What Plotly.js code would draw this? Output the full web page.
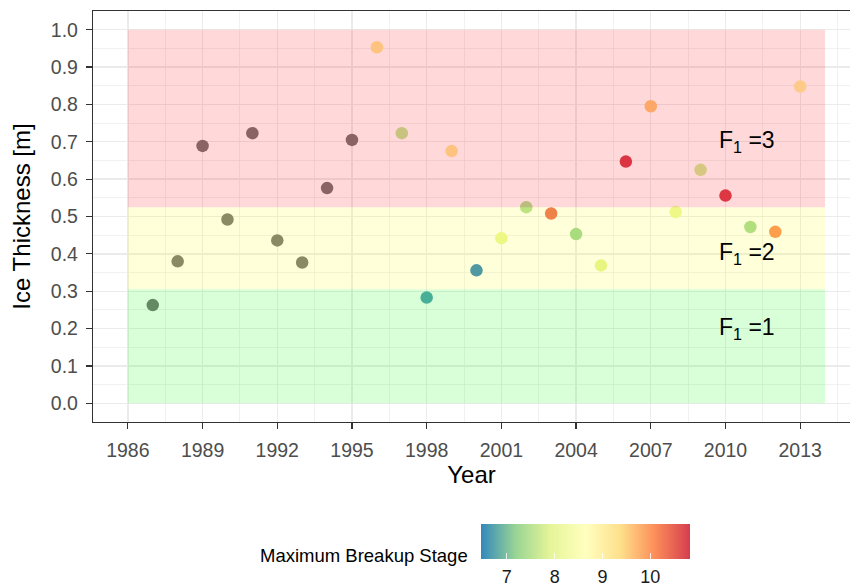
<!DOCTYPE html>
<html>
<head>
<meta charset="utf-8">
<script src="https://cdn.plot.ly/plotly-3.0.1.min.js"></script>
<style>
  html, body { margin: 0; padding: 0; background: #ffffff; }
  #chart { width: 850px; height: 586px; }
</style>
</head>
<body>
<div id="chart"></div>
<script>
// Ice thickness at breakup, by year, coloured by the maximum breakup stage
const years = [1987, 1988, 1989, 1990, 1991, 1992, 1993, 1994, 1995, 1996,
               1997, 1998, 1999, 2000, 2001, 2002, 2003, 2004, 2005, 2006,
               2007, 2008, 2009, 2010, 2011, 2012, 2013];
const thickness = [0.263, 0.380, 0.689, 0.492, 0.723, 0.436, 0.377, 0.576, 0.705, 0.953,
                   0.723, 0.283, 0.675, 0.356, 0.442, 0.525, 0.508, 0.453, 0.369, 0.647,
                   0.795, 0.512, 0.625, 0.556, 0.472, 0.459, 0.848];
// null = stage not recorded
const breakupStage = [null, null, null, null, null, null, null, null, null, 9.25,
                      7.55, 6.7, 9.25, 6.46, 8.0, 7.4, 10.4, 7.2, 7.9, 10.83,
                      9.6, 8.05, 7.7, 10.8, 7.3, 10.1, 9.05];

// F1 classes: lower / upper thickness limits and labels
const classLower = [0.0, 0.305, 0.525];
const classUpper = [0.305, 0.525, 1.0];
const classColor = ['rgba(0,255,0,0.15)', 'rgba(255,255,0,0.15)', 'rgba(255,0,0,0.15)'];
const classLabel = ['F<sub>1</sub> =1', 'F<sub>1</sub> =2', 'F<sub>1</sub> =3'];
const classLabelY = [0.2, 0.4, 0.7];
const bandStart = 1986, bandEnd = 2014;

const stageTicks = [7, 8, 9, 10];
const stageMin = 6.46, stageMax = 10.83;

const spectral = [
  [0, '#3288bd'], [1/6, '#99d594'], [2/6, '#e6f598'], [3/6, '#ffffbf'],
  [4/6, '#fee08b'], [5/6, '#fc8d59'], [1, '#d53e4f']
];

const naX = [], naY = [], stX = [], stY = [], stC = [];
years.forEach((y, i) => {
  if (breakupStage[i] === null) { naX.push(y); naY.push(thickness[i]); }
  else { stX.push(y); stY.push(thickness[i]); stC.push(breakupStage[i]); }
});

const FONT = 'Liberation Sans, Arial, sans-serif';

// shared colour-bar geometry
const barGeom = {
  orientation: 'h',
  x: (481 - 93) / 757, xanchor: 'left',
  y: (422 - 524) / 411, yanchor: 'top',
  lenmode: 'pixels', len: 209,
  thickness: 35, thicknessmode: 'pixels',
  xpad: 0, ypad: 0, outlinewidth: 0,
  tickvals: stageTicks, ticktext: stageTicks.map(String),
  title: { text: '' }
};

const traces = [
  {
    type: 'scatter', mode: 'markers', x: naX, y: naY,
    marker: { size: 12.5, color: '#767676', line: { width: 0 } },
    showlegend: false, hoverinfo: 'x+y'
  },
  {
    // stage-coloured points; colour bar carries the tick labels
    type: 'scatter', mode: 'markers', x: stX, y: stY,
    marker: {
      size: 12.5, color: stC, colorscale: spectral, cmin: stageMin, cmax: stageMax,
      line: { width: 0 },
      showscale: true,
      colorbar: Object.assign({}, barGeom, {
        ticks: 'outside', ticklen: 3, tickcolor: 'rgba(0,0,0,0)',
        tickfont: { family: FONT, size: 18, color: '#1a1a1a' }
      })
    },
    showlegend: false, hoverinfo: 'x+y'
  },
  {
    // same scale again, drawing only the white tick marks inside the bar
    type: 'scatter', mode: 'markers', x: stX, y: stY,
    marker: {
      size: 12.5, opacity: 0, color: stC, colorscale: spectral, cmin: stageMin, cmax: stageMax,
      showscale: true,
      colorbar: Object.assign({}, barGeom, {
        ticks: 'inside', ticklen: 6, tickcolor: 'rgba(255,255,255,0.8)', tickwidth: 1,
        showticklabels: false
      })
    },
    showlegend: false, hoverinfo: 'skip'
  }
];

const shapes = classLower.map((lo, i) => ({
  type: 'rect', xref: 'x', yref: 'y', layer: 'above',
  x0: bandStart, x1: bandEnd, y0: lo, y1: classUpper[i],
  fillcolor: classColor[i], line: { width: 0 }
}));

const annotations = classLabel.map((t, i) => ({
  xref: 'x', yref: 'y', x: 2010.85, y: classLabelY[i], text: t, showarrow: false,
  font: { family: FONT, size: 23, color: '#000000' },
  xanchor: 'center', yanchor: 'middle'
}));
annotations.push({
  xref: 'paper', yref: 'paper', x: (470 - 93) / 757, y: (422 - 555) / 411,
  xanchor: 'right', yanchor: 'middle', showarrow: false,
  text: 'Maximum Breakup Stage',
  font: { family: FONT, size: 18.5, color: '#000000' }
});

const axisFont = { family: FONT, size: 19.5, color: '#4d4d4d' };
const titleFont = { family: FONT, size: 24, color: '#000000' };

const layout = {
  width: 850, height: 586,
  margin: { l: 93, r: 0, t: 11, b: 164, autoexpand: false },
  paper_bgcolor: '#ffffff', plot_bgcolor: '#ffffff',
  showlegend: false,
  xaxis: {
    range: [1984.6, 2015.0],
    tickmode: 'linear', tick0: 1986, dtick: 3,
    ticks: 'outside', ticklen: 6, tickwidth: 1.2, tickcolor: '#333333',
    ticklabelstandoff: 4,
    tickfont: axisFont,
    showgrid: true, gridcolor: '#ebebeb', gridwidth: 1.4,
    minor: { dtick: 1.5, tick0: 1986, showgrid: true, gridcolor: '#ebebeb', gridwidth: 0.7, ticks: '' },
    showline: true, linecolor: '#333333', linewidth: 1.2, mirror: true,
    zeroline: false,
    title: { text: 'Year', font: titleFont, standoff: 1 }
  },
  yaxis: {
    range: [-0.05, 1.05],
    tickmode: 'linear', tick0: 0, dtick: 0.1, tickformat: '.1f',
    ticks: 'outside', ticklen: 6, tickwidth: 1.2, tickcolor: '#333333',
    ticklabelstandoff: 4,
    tickfont: axisFont,
    showgrid: true, gridcolor: '#ebebeb', gridwidth: 1.4,
    minor: { dtick: 0.05, tick0: 0, showgrid: true, gridcolor: '#ebebeb', gridwidth: 0.7, ticks: '' },
    showline: true, linecolor: '#333333', linewidth: 1.2, mirror: false,
    zeroline: false,
    title: { text: 'Ice Thickness [m]', font: titleFont, standoff: 13 }
  },
  shapes: shapes,
  annotations: annotations
};

Plotly.newPlot('chart', traces, layout, { staticPlot: true, displayModeBar: false });
</script>
</body>
</html>
